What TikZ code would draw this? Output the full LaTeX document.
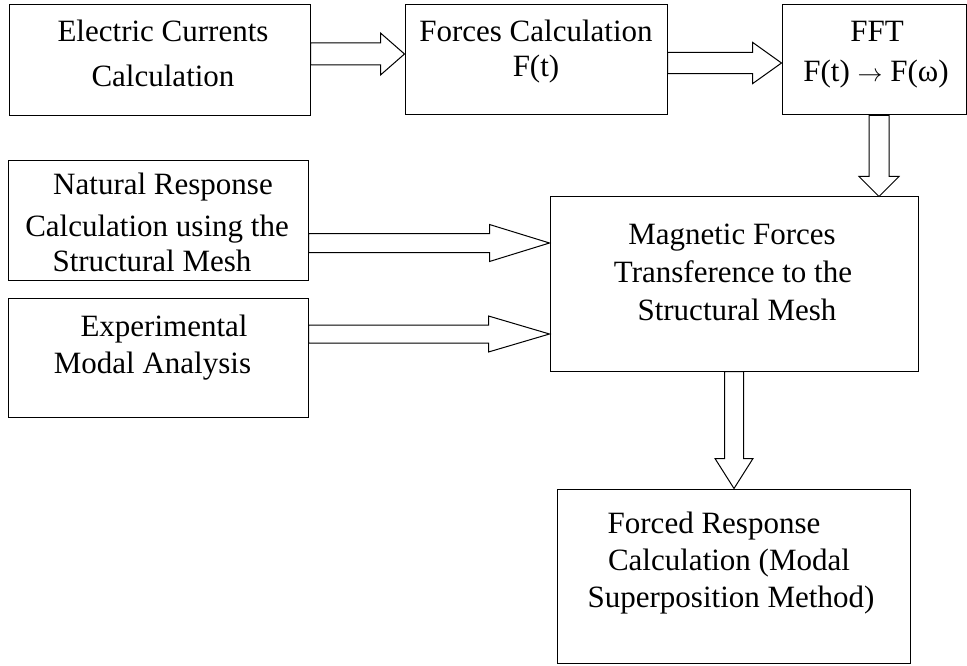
\documentclass[tikz,border=0pt]{standalone}
\usepackage{fontspec}
\setmainfont{Liberation Serif}
\usetikzlibrary{calc,fit}

% hollow block arrow: start, tip, half shaft width, half head width, head length
\newcommand\fatarrow[5]{%
  \coordinate (fah) at ($(#2)!#5!(#1)$);
  \draw[fatline] ($(#1)!#3!90:(#2)$) -- ($(fah)!#3!-90:(#1)$)
    -- ($(fah)!#4!-90:(#1)$) -- (#2) -- ($(fah)!#4!90:(#1)$)
    -- ($(fah)!#3!90:(#1)$) -- ($(#1)!#3!-90:(#2)$) -- cycle;}

\begin{document}
\begin{tikzpicture}[x=1pt,y=-1pt,
  box/.style={draw=black, line width=1pt, fill=white, inner sep=0pt, rectangle},
  fatline/.style={draw=black, line width=1pt, fill=white, line join=miter},
  txt/.style={anchor=base, inner sep=0pt, font=\fontsize{31}{37}\selectfont}]
\useasboundingbox (0,0) rectangle (967,666);

% boxes
\node[box, fit={(9,5) (310,116)}] (elec) {};
\node[box, fit={(405,5) (667,115)}] (forces) {};
\node[box, fit={(782,5) (966,115)}] (fft) {};
\node[box, fit={(8,161) (308,280)}] (natural) {};
\node[box, fit={(8,298) (308,417)}] (exper) {};
\node[box, fit={(550,197) (918,371)}] (magnetic) {};
\node[box, fit={(557,489) (910,663)}] (forced) {};

% labels
\node[txt] (elec1) at (163,41.7) {Electric Currents};
\node[txt] (elec2) at (163,86.7) {Calculation};
\node[txt] (forces1) at (536,41.7) {Forces Calculation};
\node[txt] (forces2) at (536,77) {F(t)};
\node[txt] (fft1) at (877,41.7) {FFT};
\node[txt] (fft2) at (876,81.7) {F(t) $\rightarrow$ F(ω)};
\node[txt] (nat1) at (163,195) {Natural Response};
\node[txt] (nat2) at (157,236) {Calculation using the};
\node[txt] (nat3) at (152,271) {Structural Mesh};
\node[txt] (exp1) at (164,336) {Experimental};
\node[txt] (exp2) at (152.5,373) {Modal Analysis};
\node[txt] (mag1) at (732,244) {Magnetic Forces};
\node[txt] (mag2) at (733,282) {Transference to the};
\node[txt] (mag3) at (737,320) {Structural Mesh};
\node[txt] (for1) at (714,533) {Forced Response};
\node[txt] (for2) at (729,570) {Calculation (Modal};
\node[txt] (for3) at (731,607) {Superposition Method)};

% connector end points on the box borders
\coordinate (a1s) at (elec.east |- 0,54);
\coordinate (a1e) at (forces.west |- 0,54);
\coordinate (a2s) at (forces.east |- 0,63);
\coordinate (a2e) at (fft.west |- 0,63);
\coordinate (a3s) at (fft.south -| 879,0);
\coordinate (a3e) at (magnetic.north -| 879,0);
\coordinate (a4s) at (natural.east |- 0,243);
\coordinate (a4e) at (magnetic.west |- 0,243);
\coordinate (a5s) at (exper.east |- 0,334);
\coordinate (a5e) at (magnetic.west |- 0,334);
\coordinate (a6s) at (magnetic.south -| 734,0);
\coordinate (a6e) at (forced.north -| 734,0);

% block arrows
\fatarrow{a1s}{a1e}{11pt}{21pt}{24pt}
\fatarrow{a2s}{a2e}{10.7pt}{20.7pt}{29pt}
\fatarrow{a3s}{a3e}{10pt}{20pt}{20pt}
\fatarrow{a4s}{a4e}{9.5pt}{18.5pt}{60pt}
\fatarrow{a5s}{a5e}{9pt}{18pt}{61pt}
\fatarrow{a6s}{a6e}{9.5pt}{19pt}{30pt}
\end{tikzpicture}
\end{document}
